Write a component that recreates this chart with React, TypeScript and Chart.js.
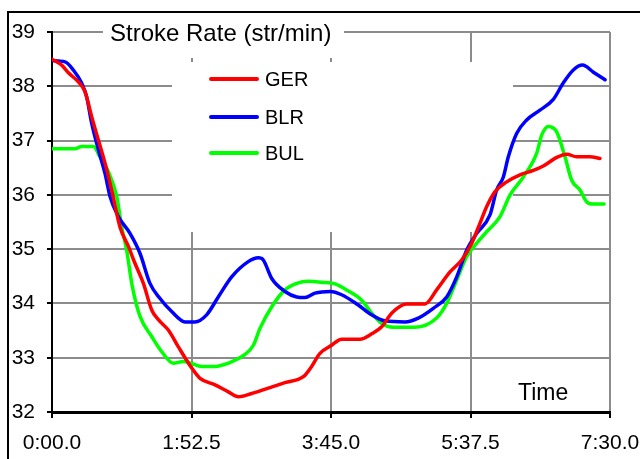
import React, { useEffect, useRef } from "react";
import { Chart, registerables } from "chart.js";

Chart.register(...registerables);

// ---- Data ----
const chartTitle = "Stroke Rate (str/min)";
const xAxisTitle = "Time";
const seriesNames = ["GER", "BLR", "BUL"];
const seriesColors = ["#ff0000", "#0000ff", "#00ff00"];
const xTickValues = [0, 112.5, 225, 337.5, 450];
const xTickLabels = ["0:00.0", "1:52.5", "3:45.0", "5:37.5", "7:30.0"];
const yMin = 32;
const yMax = 39;

// time in seconds, stroke rate in str/min
const gerTime = [0, 7.8, 13.2, 21.2, 26.6, 32, 37.4, 42.7, 48.1, 54.8, 61.6, 66.9, 73.7, 80.4, 85.8, 93.8, 101.9, 111.8, 119.4, 131.5, 142.2, 150.3, 161, 174.5, 187.9, 202.7, 209.4, 216.1, 225.5, 233.6, 248.4, 257.8, 265.9, 273.9, 286, 300.8, 310.2, 321, 330.4, 337.9, 345.2, 350.5, 357.3, 366.7, 377.4, 388.2, 396.2, 407, 415.1, 423.1, 433.9, 441.9];
const gerRate = [38.5, 38.39, 38.25, 38.08, 37.9, 37.44, 37.01, 36.59, 36.09, 35.41, 35.05, 34.74, 34.37, 33.88, 33.7, 33.51, 33.2, 32.84, 32.62, 32.5, 32.37, 32.28, 32.34, 32.44, 32.54, 32.65, 32.84, 33.08, 33.23, 33.34, 33.34, 33.44, 33.57, 33.82, 33.99, 33.99, 34.25, 34.58, 34.8, 35.08, 35.48, 35.78, 36.06, 36.24, 36.37, 36.45, 36.53, 36.69, 36.75, 36.7, 36.7, 36.67];

const blrTime = [0, 10.5, 17.2, 23.9, 27.9, 32, 37.4, 42.7, 46.8, 53.5, 62.9, 71, 79, 87.1, 96.5, 107.3, 115.3, 124.7, 134.1, 144.9, 158.3, 166.4, 170.4, 177.2, 187.9, 197.3, 204, 212.1, 224.2, 233.6, 247, 257.8, 268.5, 284.7, 295.4, 307.5, 318.3, 326.4, 334.4, 342.5, 353.2, 358.6, 364, 368, 374.7, 382.8, 393.5, 404.3, 412.3, 420.4, 427.9, 436.6, 446];
const blrRate = [38.47, 38.45, 38.3, 38.06, 37.81, 37.32, 36.83, 36.4, 35.97, 35.6, 35.29, 34.92, 34.37, 34.09, 33.85, 33.66, 33.66, 33.79, 34.12, 34.49, 34.77, 34.84, 34.8, 34.46, 34.22, 34.12, 34.11, 34.19, 34.22, 34.16, 33.97, 33.79, 33.68, 33.66, 33.73, 33.91, 34.12, 34.49, 34.98, 35.29, 35.63, 36.09, 36.33, 36.7, 37.13, 37.38, 37.56, 37.76, 38.06, 38.3, 38.39, 38.26, 38.12];

const bulTime = [0, 18.5, 23.9, 33.3, 38.7, 45.4, 52.2, 56.2, 60.2, 64.8, 71, 80.4, 88.5, 97.8, 105.9, 111.8, 120.7, 131.5, 142.2, 155.6, 162.4, 167.7, 177.2, 187.9, 197.3, 206.7, 217.5, 228.2, 239, 249.7, 257.8, 265.9, 275.3, 292.7, 310.2, 318.3, 326.4, 334.4, 342.5, 350.5, 361.3, 369.4, 380.1, 390.9, 394.9, 400.3, 407, 413.7, 419.1, 425.8, 431.2, 436.6, 445.2];
const bulRate = [36.85, 36.85, 36.89, 36.89, 36.7, 36.43, 35.97, 35.41, 34.98, 34.31, 33.76, 33.39, 33.11, 32.9, 32.93, 32.9, 32.84, 32.84, 32.9, 33.06, 33.23, 33.54, 33.94, 34.25, 34.37, 34.41, 34.39, 34.36, 34.23, 34.06, 33.82, 33.63, 33.56, 33.56, 33.73, 34.0, 34.43, 34.86, 35.11, 35.32, 35.6, 36.0, 36.33, 36.77, 37.1, 37.26, 37.16, 36.7, 36.27, 36.09, 35.87, 35.83, 35.83];

const FONT = "'Liberation Sans', Arial, sans-serif";

export default function App() {
  const canvasRef = useRef<HTMLCanvasElement>(null);

  useEffect(() => {
    const canvas = canvasRef.current;
    if (!canvas) return;
    const toPts = (t: number[], v: number[]) => t.map((x, i) => ({ x, y: v[i] }));
    const seriesData = [toPts(gerTime, gerRate), toPts(blrTime, blrRate), toPts(bulTime, bulRate)];

    const overlay = {
      id: "overlay",
      beforeDatasetsDraw(chart: any) {
        const ctx = chart.ctx as CanvasRenderingContext2D;
        ctx.save();
        // white boxes behind title and legend (hide gridlines)
        ctx.fillStyle = "#ffffff";
        ctx.fillRect(103, 14, 241, 44);
        ctx.fillRect(172, 62, 341, 170);
        // title
        ctx.fillStyle = "#000000";
        ctx.font = `24px ${FONT}`;
        ctx.textAlign = "left";
        ctx.textBaseline = "alphabetic";
        ctx.fillText(chartTitle, 110, 40.5);
        // legend
        const rows = [79, 117, 153];
        chart.data.datasets.forEach((ds: any, i: number) => {
          const y = rows[i];
          ctx.strokeStyle = ds.borderColor;
          ctx.lineWidth = 4;
          ctx.lineCap = "round";
          ctx.beginPath();
          ctx.moveTo(211, y);
          ctx.lineTo(257, y);
          ctx.stroke();
          ctx.fillStyle = "#000000";
          ctx.font = `20px ${FONT}`;
          ctx.fillText(ds.label, 265, y + 7.2);
        });
        // axis title inside plot
        ctx.font = `23px ${FONT}`;
        ctx.fillText(xAxisTitle, 518, 400);
        ctx.restore();
      },
      afterDraw(chart: any) {
        const ctx = chart.ctx as CanvasRenderingContext2D;
        ctx.save();
        ctx.strokeStyle = "#000000";
        ctx.lineWidth = 2;
        ctx.strokeRect(8, 12, 700, 500);
        ctx.restore();
      },
    };

    const chart = new Chart(canvas, {
      type: "line",
      data: {
        datasets: seriesNames.map((name, i) => ({
          label: name,
          data: seriesData[i],
          borderColor: seriesColors[i],
          backgroundColor: seriesColors[i],
          borderWidth: 3.5,
          pointRadius: 0,
          pointHoverRadius: 0,
          fill: false,
          cubicInterpolationMode: "monotone" as const,
          borderCapStyle: "round" as const,
          borderJoinStyle: "round" as const,
        })),
      },
      options: {
        responsive: false,
        animation: false,
        devicePixelRatio: 1,
        layout: { padding: { left: 0, right: 30, top: 32, bottom: 0 } },
        plugins: {
          legend: { display: false },
          title: { display: false },
          tooltip: { enabled: false },
        },
        scales: {
          x: {
            type: "linear",
            min: xTickValues[0],
            max: xTickValues[xTickValues.length - 1],
            afterBuildTicks: (scale: any) => {
              scale.ticks = xTickValues.map((v) => ({ value: v }));
            },
            afterFit: (scale: any) => {
              scale.height = 47;
              scale.paddingLeft = 0;
              scale.paddingRight = 0;
            },
            ticks: {
              autoSkip: false,
              maxRotation: 0,
              padding: 13,
              color: "#000000",
              font: { family: FONT, size: 21 },
              callback: (_v: any, i: number) => xTickLabels[i],
            },
            grid: {
              color: "#8c8c8c",
              lineWidth: 2,
              tickLength: 6,
              tickColor: "#000000",
              tickWidth: 2,
            },
            border: { color: "#000000", width: 3 },
          },
          y: {
            type: "linear",
            min: yMin,
            max: yMax,
            afterFit: (scale: any) => {
              scale.width = 52;
              scale.paddingTop = 0;
              scale.paddingBottom = 0;
            },
            ticks: {
              stepSize: 1,
              padding: 12,
              color: "#000000",
              font: { family: FONT, size: 21 },
            },
            grid: {
              color: "#8c8c8c",
              lineWidth: 2,
              tickLength: 5,
              tickColor: "#000000",
              tickWidth: 2,
            },
            border: { color: "#000000", width: 2 },
          },
        },
      },
      plugins: [overlay],
    });

    return () => chart.destroy();
  }, []);

  return (
    <div style={{ position: "fixed", left: 0, top: 0, width: 640, height: 459, background: "#fff" }}>
      <canvas ref={canvasRef} width={640} height={459} style={{ display: "block" }} />
    </div>
  );
}
